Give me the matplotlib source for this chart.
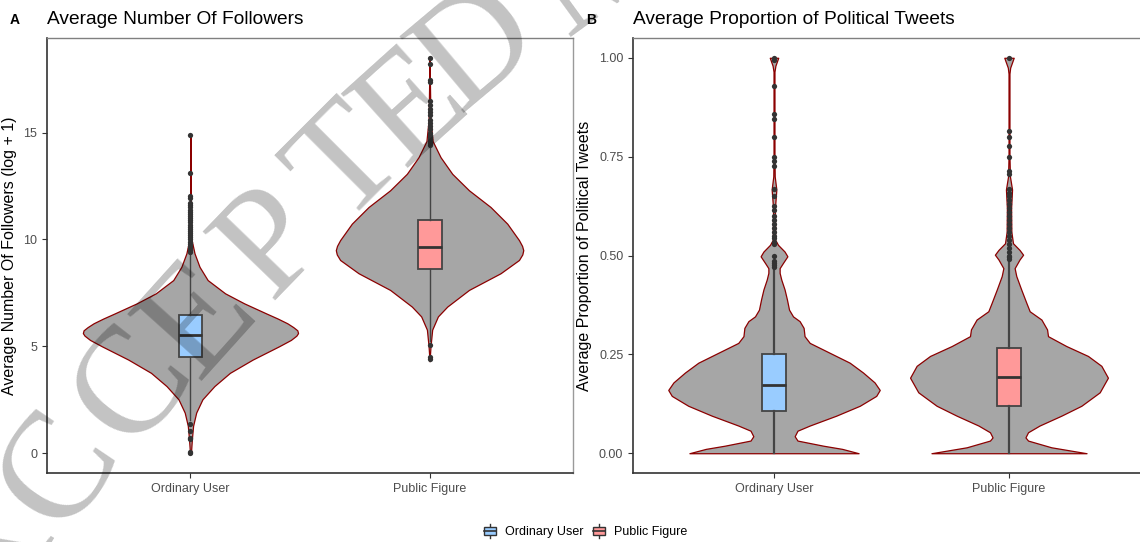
import matplotlib
matplotlib.use('Agg')
import matplotlib.pyplot as plt
from matplotlib.patches import Patch, Rectangle
from matplotlib.lines import Line2D
from matplotlib.legend_handler import HandlerBase


# groups and colours
groups = ['Ordinary User', 'Public Figure']
box_colors = ['#99ccff', '#ff9999']

# panel A: violin outline (value, half width in x units)
fol_ord_y = [0.0, 0.66, 1.28, 1.9, 2.52, 3.14, 3.76, 4.38, 5.0, 5.3, 5.5, 5.62, 5.75, 5.9, 6.08,
             6.3, 6.55, 7.01, 7.48, 8.1, 8.72, 9.35, 9.97, 11.0, 13.0, 14.9]
fol_ord_w = [0.002, 0.006, 0.011, 0.024, 0.05, 0.1, 0.165, 0.26, 0.37, 0.42, 0.443, 0.45, 0.447,
             0.43, 0.405, 0.365, 0.315, 0.225, 0.145, 0.072, 0.038, 0.017, 0.005, 0.002, 0.001, 0.0]
fol_pub_y = [4.3, 5.0, 5.78, 6.4, 6.86, 7.64, 8.42, 9.04, 9.3, 9.5, 9.7, 9.97, 10.74, 11.52, 12.3,
             13.07, 13.85, 14.6, 15.6, 17.0, 18.5]
fol_pub_w = [0.0, 0.004, 0.011, 0.035, 0.074, 0.165, 0.297, 0.374, 0.388, 0.392, 0.387, 0.374,
             0.325, 0.255, 0.165, 0.095, 0.046, 0.013, 0.004, 0.002, 0.0]

# panel A: boxplot stats (q1, median, q3, whisker low, whisker high) and outliers
fol_box = [(4.52, 5.53, 6.46, 1.55, 9.35), (8.63, 9.67, 10.92, 5.25, 14.35)]
fol_out_ord = [14.9, 13.1, 12.05, 11.95, 11.7, 11.6, 11.5, 11.4, 11.3, 11.2, 11.1, 11.0, 10.9,
               10.8, 10.7, 10.6, 10.5, 10.4, 10.3, 10.2, 10.1, 10.0, 9.9, 9.8, 9.7, 9.6, 9.5,
               9.4, 1.35, 1.05, 0.7, 0.65, 0.05, 0.0]
fol_out_pub = [18.5, 18.2, 17.45, 17.35, 16.5, 16.3, 16.1, 15.95, 15.8, 15.6, 15.45, 15.3,
               15.15, 15.0, 14.9, 14.8, 14.7, 14.6, 14.5, 14.4, 5.05, 4.5, 4.4]

# panel B: violin outline
pol_ord_y = [0.0, 0.011, 0.019, 0.032, 0.043, 0.057, 0.07, 0.095, 0.12, 0.145, 0.16, 0.179,
             0.204, 0.229, 0.254, 0.279, 0.296, 0.317, 0.334, 0.346, 0.363, 0.389, 0.414,
             0.439, 0.456, 0.468, 0.481, 0.498, 0.51, 0.527, 0.54, 0.62, 0.667, 0.7, 0.75,
             0.965, 0.98, 1.0]
pol_ord_w = [0.36, 0.29, 0.21, 0.10, 0.088, 0.10, 0.152, 0.265, 0.365, 0.435, 0.45, 0.428,
             0.379, 0.322, 0.237, 0.152, 0.13, 0.126, 0.109, 0.081, 0.064, 0.055, 0.045,
             0.031, 0.024, 0.024, 0.038, 0.057, 0.045, 0.017, 0.005, 0.004, 0.01, 0.003, 0.002,
             0.002, 0.006, 0.018]
pol_pub_y = [0.0, 0.015, 0.032, 0.04, 0.053, 0.07, 0.095, 0.12, 0.154, 0.191, 0.221, 0.246,
             0.271, 0.296, 0.313, 0.338, 0.359, 0.38, 0.414, 0.448, 0.468, 0.49, 0.502, 0.514,
             0.531, 0.56, 0.62, 0.667, 0.7, 0.75, 0.96, 0.975, 1.0]
pol_pub_w = [0.33, 0.18, 0.081, 0.07, 0.081, 0.13, 0.223, 0.308, 0.386, 0.421, 0.393, 0.336,
             0.244, 0.166, 0.162, 0.138, 0.088, 0.074, 0.052, 0.031, 0.024, 0.045, 0.06, 0.045,
             0.017, 0.01, 0.009, 0.013, 0.004, 0.002, 0.002, 0.005, 0.02]

pol_box = [(0.106, 0.172, 0.25, 0.0, 0.465), (0.119, 0.193, 0.266, 0.0, 0.485)]
pol_out_ord = [1.0, 0.995, 0.928, 0.857, 0.845, 0.80, 0.75, 0.74, 0.727, 0.667, 0.65, 0.625,
               0.615, 0.6, 0.59, 0.58, 0.57, 0.56, 0.55, 0.545, 0.535, 0.53, 0.5, 0.485,
               0.48, 0.475, 0.47]
pol_out_pub = [1.0, 0.814, 0.8, 0.777, 0.75, 0.714, 0.706, 0.667, 0.657, 0.65, 0.64, 0.63,
               0.62, 0.61, 0.6, 0.59, 0.58, 0.57, 0.56, 0.55, 0.54, 0.53, 0.52, 0.51, 0.5,
               0.495, 0.49]

# watermark letters (pixel centre x, y and rotation)
wm_letters = ['A', 'C', 'C', 'E', 'P', 'T', 'E', 'D', 'M']
wm_x = [-5, 62, 136, 202, 274, 350, 414, 478, 600]
wm_y = [565, 472, 388, 322, 245, 168, 110, 50, -32]
wm_rot = [60, 56, 52, 48, 46, 45, 42, 40, 36]

W, H = 1140, 542


class BoxHandler(HandlerBase):
    # legend key that looks like a small boxplot
    def create_artists(self, legend, orig_handle, xdescent, ydescent, width, height,
                       fontsize, trans):
        cx = width / 2 - xdescent
        bw = width * 0.8
        y0 = -ydescent + height * 0.2
        bh = height * 0.6
        rect = Rectangle((cx - bw / 2, y0), bw, bh, facecolor=orig_handle.get_facecolor(),
                         edgecolor='#333333', lw=1.0, transform=trans)
        mid = y0 + bh / 2
        med = Line2D([cx - bw / 2, cx + bw / 2], [mid, mid], color='#333333', lw=1.2, transform=trans)
        w1 = Line2D([cx, cx], [-ydescent, y0], color='#333333', lw=1.0, transform=trans)
        w2 = Line2D([cx, cx], [y0 + bh, -ydescent + height], color='#333333', lw=1.0, transform=trans)
        return [w1, w2, rect, med]


def violin(ax, pos, ys, ws):
    left = [pos - w for w in ws]
    right = [pos + w for w in ws]
    ax.fill_betweenx(ys, left, right, facecolor='#a6a6a6', edgecolor='#8b0000',
                     lw=0.9, zorder=1)


def boxes(ax, box, outs, lw):
    stats = []
    for (q1, med, q3, lo, hi), fl in zip(box, outs):
        stats.append(dict(q1=q1, med=med, q3=q3, whislo=lo, whishi=hi, fliers=fl))
    bp = ax.bxp(stats, positions=[1, 2], widths=0.1, patch_artist=True, showcaps=False,
                boxprops=dict(edgecolor='#444444', lw=1.3),
                medianprops=dict(color='#333333', lw=2.0),
                whiskerprops=dict(color='#444444', lw=lw),
                flierprops=dict(marker='o', markersize=3.8, markerfacecolor='#333333',
                                markeredgecolor='none'),
                zorder=3)
    for patch, c in zip(bp['boxes'], box_colors):
        patch.set_facecolor(c)


def style(ax):
    ax.set_xlim(0.4, 2.6)
    ax.set_xticks([1, 2])
    ax.set_xticklabels(groups)
    ax.tick_params(colors='#333333', labelcolor='#4d4d4d', labelsize=9, length=3.5, width=0.8)
    for s in ['left', 'bottom']:
        ax.spines[s].set_color('#333333')
        ax.spines[s].set_linewidth(1.2)
    ax.spines['top'].set_color('#808080')
    ax.spines['right'].set_color('#9a9a9a')
    ax.spines['top'].set_linewidth(1.0)
    ax.spines['right'].set_linewidth(1.0)


fig = plt.figure(figsize=(W / 100, H / 100), dpi=100)
plt.rcParams['font.family'] = ['Liberation Sans', 'DejaVu Sans']

axA = fig.add_axes([47 / W, 69 / H, 526 / W, 435 / H])
axB = fig.add_axes([633 / W, 69 / H, 517 / W, 435 / H])

violin(axA, 1, fol_ord_y, fol_ord_w)
violin(axA, 2, fol_pub_y, fol_pub_w)
boxes(axA, fol_box, [fol_out_ord, fol_out_pub], 1.0)
style(axA)
axA.set_ylim(-0.925, 19.425)
axA.set_yticks([0, 5, 10, 15])
axA.set_ylabel('Average Number Of Followers (log + 1)', fontsize=11.5)
axA.yaxis.set_label_coords(-30 / 526, 0.5)

violin(axB, 1, pol_ord_y, pol_ord_w)
violin(axB, 2, pol_pub_y, pol_pub_w)
boxes(axB, pol_box, [pol_out_ord, pol_out_pub], 1.6)
style(axB)
axB.set_ylim(-0.05, 1.05)
axB.set_yticks([0, 0.25, 0.5, 0.75, 1.0])
axB.set_yticklabels(['0.00', '0.25', '0.50', '0.75', '1.00'])
axB.set_ylabel('Average Proportion of Political Tweets', fontsize=11.5)
axB.yaxis.set_label_coords(-41 / 517, 0.5)

# titles and panel tags
fig.text(47 / W, 1 - 20 / H, 'Average Number Of Followers', fontsize=13.8, va='center')
fig.text(633 / W, 1 - 20 / H, 'Average Proportion of Political Tweets', fontsize=13.8, va='center')
fig.text(10 / W, 1 - 20 / H, 'A', fontsize=10, fontweight='bold', va='center')
fig.text(586 / W, 1 - 20 / H, 'B', fontsize=10, fontweight='bold', va='center')

# legend
handles = [Patch(facecolor=c) for c in box_colors]
fig.legend(handles, groups, loc='center', bbox_to_anchor=(585 / W, 11 / H), ncol=2,
           frameon=False, fontsize=9, handlelength=1.2, handleheight=1.3,
           handletextpad=0.6, columnspacing=0.6,
           handler_map={Patch: BoxHandler()})

# "ACCEPTED MANUSCRIPT" watermark
for ch, x, y, r in zip(wm_letters, wm_x, wm_y, wm_rot):
    fig.text(x / W, 1 - y / H, ch, fontsize=110, family='Liberation Serif', color='black',
             alpha=0.24, rotation=r, ha='center', va='center', rotation_mode='anchor',
             zorder=10)

fig.savefig('out.png', dpi=100)
